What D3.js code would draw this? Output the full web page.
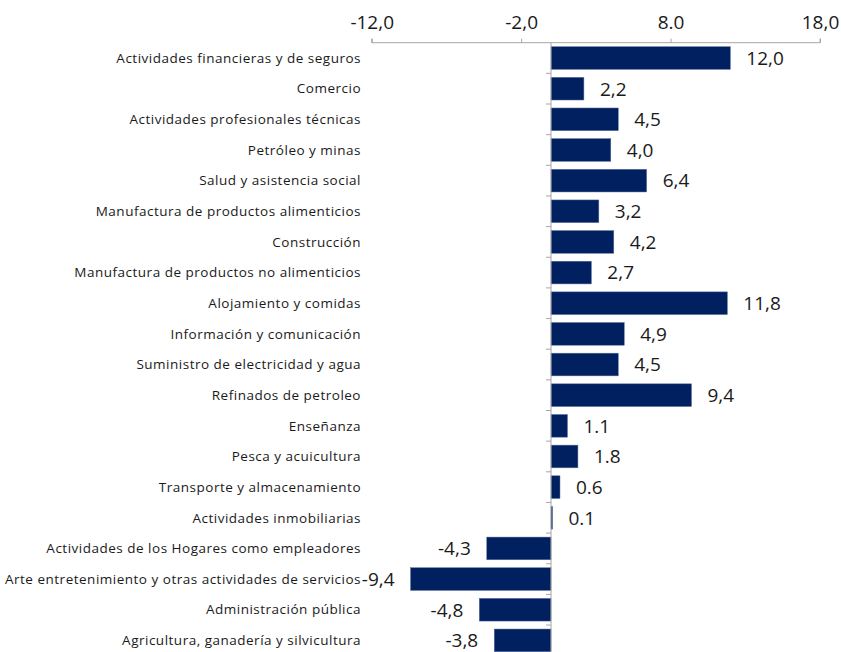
<!DOCTYPE html>
<html><head><meta charset="utf-8">
<script src="https://cdn.jsdelivr.net/npm/d3@7/dist/d3.min.js"></script>
<style>body{margin:0;background:#fff}</style>
</head><body>
<script>
const categories = [
  "Actividades financieras y de seguros","Comercio","Actividades profesionales técnicas",
  "Petróleo y minas","Salud y asistencia social","Manufactura de productos alimenticios",
  "Construcción","Manufactura de productos no alimenticios","Alojamiento y comidas",
  "Información y comunicación","Suministro de electricidad y agua","Refinados de petroleo",
  "Enseñanza","Pesca y acuicultura","Transporte y almacenamiento","Actividades inmobiliarias",
  "Actividades de los Hogares como empleadores","Arte entretenimiento y otras actividades de servicios",
  "Administración pública","Agricultura, ganadería y silvicultura"];
const values = [12.0,2.2,4.5,4.0,6.4,3.2,4.2,2.7,11.8,4.9,4.5,9.4,1.1,1.8,0.6,0.1,-4.3,-9.4,-4.8,-3.8];
const valueLabels = ["12,0","2,2","4,5","4,0","6,4","3,2","4,2","2,7","11,8","4,9","4,5","9,4","1.1","1.8","0.6","0.1","-4,3","-9,4","-4,8","-3,8"];
const tickValues = [-12, -2, 8, 18];
const tickLabels = ["-12,0","-2,0","8.0","18,0"];

const W = 841, H = 652;
const svg = d3.select("body").append("svg").attr("width", W).attr("height", H);
const x = d3.scaleLinear().domain([-12, 18]).range([371.7, 820]);
const y = d3.scaleBand().domain(categories).range([42.7, 42.7 + 30.65 * categories.length]).paddingInner(0.26).paddingOuter(0.13);
const font = "'Open Sans', sans-serif";
const navy = "#002060";

// top axis
const ax = svg.append("g").attr("transform", "translate(0,42.7)")
  .call(d3.axisTop(x).tickValues(tickValues).tickFormat((d,i)=>tickLabels[i]).tickSize(4).tickPadding(10));
ax.select(".domain").attr("stroke", "#a6a6a6").attr("d", `M${x(-12)},-4V0H${x(18)}V-4`);
ax.selectAll(".tick line").attr("stroke", "#a6a6a6");
ax.selectAll(".tick text").attr("font-family", font).attr("font-size", 19).attr("fill", "#1a1a1a");

// bars
svg.append("g").selectAll("rect").data(values).join("rect")
  .attr("x", d => x(Math.min(0, d)))
  .attr("y", (d,i) => y(categories[i]))
  .attr("width", d => Math.abs(x(d) - x(0)))
  .attr("height", y.bandwidth())
  .attr("fill", navy).attr("stroke", "#5a6f9c").attr("stroke-width", 0.5);

// zero axis
const ay = svg.append("g").attr("transform", `translate(${x(0)},0)`)
  .call(d3.axisLeft(y).tickSize(0).tickFormat(""));
ay.select(".domain").attr("stroke", "#a6a6a6").attr("d", `M0,42.7V${H}`);
ay.selectAll(".tick").remove();
const step = y.step();
ay.selectAll("line.sep").data(d3.range(1, categories.length)).join("line")
  .attr("class","sep").attr("x1", -5).attr("x2", 0)
  .attr("y1", i => y.range()[0] + i*step).attr("y2", i => y.range()[0] + i*step)
  .attr("stroke", "#a6a6a6");

// category labels
svg.append("g").selectAll("text").data(categories).join("text")
  .attr("x", 361).attr("y", d => y(d) + y.bandwidth()/2)
  .attr("dy", "0.35em").attr("text-anchor", "end")
  .attr("font-family", font).attr("font-size", 13.5).attr("letter-spacing", "0.5px").attr("fill", "#1a1a1a")
  .text(d => d);

// value labels
svg.append("g").selectAll("text").data(values).join("text")
  .attr("x", d => d >= 0 ? x(d) + 16 : x(d) - 16)
  .attr("y", (d,i) => y(categories[i]) + y.bandwidth()/2)
  .attr("dy", "0.36em").attr("text-anchor", d => d >= 0 ? "start" : "end")
  .attr("font-family", font).attr("font-size", 19).attr("fill", "#1a1a1a")
  .text((d,i) => valueLabels[i]);
</script>
</body></html>
